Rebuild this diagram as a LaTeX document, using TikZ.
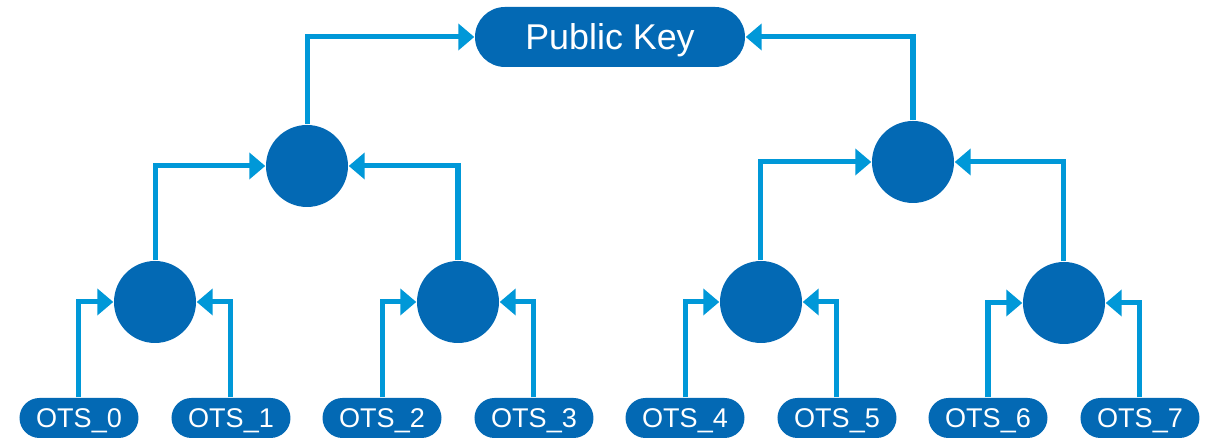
\documentclass[tikz,border=0pt]{standalone}
\usepackage{fontspec}
\setmainfont{Liberation Sans}
\usetikzlibrary{arrows.meta}
\definecolor{nodeblue}{RGB}{3,105,180}
\definecolor{lineblue}{RGB}{0,152,216}

\begin{document}
\begin{tikzpicture}[
  hash/.style={circle,fill=nodeblue,minimum size=0.82cm,inner sep=0pt},
  leaf/.style={rectangle,rounded corners=0.2cm,fill=nodeblue,text=white,
    minimum width=1.19cm,minimum height=0.40cm,inner sep=0pt,
    text height=0.195cm,text depth=0pt,
    font=\fontsize{7.7}{9}\selectfont},
  pubkey/.style={rectangle,rounded corners=0.3cm,fill=nodeblue,text=white,
    minimum width=2.70cm,minimum height=0.60cm,inner sep=0pt,
    text height=0.257cm,text depth=0pt,
    font=\fontsize{10.2}{12}\selectfont},
  link/.style={-{Triangle[length=0.16cm,width=0.26cm]},line width=0.05cm,
    draw=lineblue,line join=miter}]
  \useasboundingbox (0,0) rectangle (12.11,4.40);
  \node[pubkey] (pk) at (6.10,4.03) {Public Key};
  %
  \node[hash] (l) at (3.07,2.74) {};
  \draw[link] (l.north) |- (pk.west);
  \node[hash] (r) at (9.13,2.78) {};
  \draw[link] (r.north) |- (pk.east);
  %
  \node[hash] (ll) at (1.55,1.38) {};
  \draw[link] (ll.north) |- (l.west);
  \node[hash] (lr) at (4.58,1.38) {};
  \draw[link] (lr.north) |- (l.east);
  \node[hash] (rl) at (7.61,1.38) {};
  \draw[link] (rl.north) |- (r.west);
  \node[hash] (rr) at (10.64,1.37) {};
  \draw[link] (rr.north) |- (r.east);
  %
  \node[leaf] (ots0) at (0.79,0.22) {OTS\_0};
  \draw[link] (ots0.north) |- (ll.west);
  \node[leaf] (ots1) at (2.31,0.22) {OTS\_1};
  \draw[link] (ots1.north) |- (ll.east);
  \node[leaf] (ots2) at (3.82,0.22) {OTS\_2};
  \draw[link] (ots2.north) |- (lr.west);
  \node[leaf] (ots3) at (5.34,0.22) {OTS\_3};
  \draw[link] (ots3.north) |- (lr.east);
  \node[leaf] (ots4) at (6.85,0.22) {OTS\_4};
  \draw[link] (ots4.north) |- (rl.west);
  \node[leaf] (ots5) at (8.37,0.22) {OTS\_5};
  \draw[link] (ots5.north) |- (rl.east);
  \node[leaf] (ots6) at (9.88,0.22) {OTS\_6};
  \draw[link] (ots6.north) |- (rr.west);
  \node[leaf] (ots7) at (11.40,0.22) {OTS\_7};
  \draw[link] (ots7.north) |- (rr.east);
\end{tikzpicture}
\end{document}
